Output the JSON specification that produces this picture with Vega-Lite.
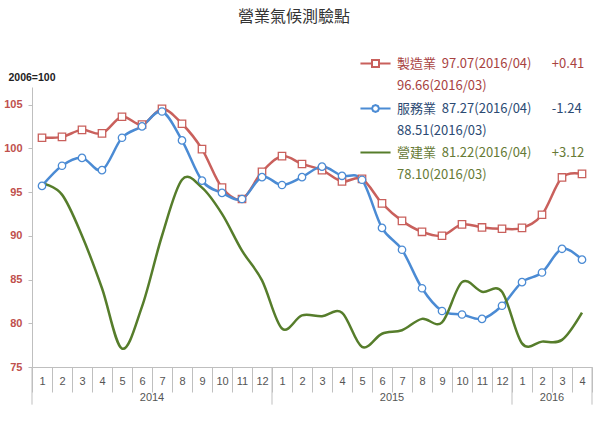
{
  "$schema": "https://vega.github.io/schema/vega-lite/v6.json",
  "width": 560,
  "height": 280,
  "autosize": {"type": "none"},
  "padding": {"left": 32, "top": 87, "right": 8, "bottom": 56},
  "background": "white",
  "title": {"text": "營業氣候測驗點", "anchor": "middle", "frame": "group", "offset": 32, "dx": -18, "fontSize": 16, "fontWeight": "normal", "color": "#333333", "font": "Noto Sans CJK TC"},
  "config": {"view": {"stroke": null}},
  "datasets": {
    "bci": [
      {"ym": "2014-01", "製造業": 101.2, "服務業": 95.7, "營建業": 96.0},
      {"ym": "2014-02", "製造業": 101.3, "服務業": 98.0, "營建業": 94.7},
      {"ym": "2014-03", "製造業": 102.1, "服務業": 98.9, "營建業": 90.0},
      {"ym": "2014-04", "製造業": 101.7, "服務業": 97.5, "營建業": 84.0},
      {"ym": "2014-05", "製造業": 103.6, "服務業": 101.2, "營建業": 77.1},
      {"ym": "2014-06", "製造業": 102.7, "服務業": 102.5, "營建業": 81.9},
      {"ym": "2014-07", "製造業": 104.5, "服務業": 104.2, "營建業": 90.0},
      {"ym": "2014-08", "製造業": 102.8, "服務業": 100.9, "營建業": 96.4},
      {"ym": "2014-09", "製造業": 99.9, "服務業": 96.3, "營建業": 95.5},
      {"ym": "2014-10", "製造業": 95.5, "服務業": 94.9, "營建業": 92.5},
      {"ym": "2014-11", "製造業": 94.2, "服務業": 94.2, "營建業": 88.3},
      {"ym": "2014-12", "製造業": 97.3, "服務業": 96.7, "營建業": 84.9},
      {"ym": "2015-01", "製造業": 99.1, "服務業": 95.8, "營建業": 79.4},
      {"ym": "2015-02", "製造業": 98.2, "服務業": 96.7, "營建業": 80.9},
      {"ym": "2015-03", "製造業": 97.5, "服務業": 97.9, "營建業": 80.8},
      {"ym": "2015-04", "製造業": 96.2, "服務業": 96.85, "營建業": 81.2},
      {"ym": "2015-05", "製造業": 96.5, "服務業": 96.4, "營建業": 77.3},
      {"ym": "2015-06", "製造業": 93.7, "服務業": 90.9, "營建業": 78.8},
      {"ym": "2015-07", "製造業": 91.7, "服務業": 88.4, "營建業": 79.2},
      {"ym": "2015-08", "製造業": 90.45, "服務業": 84.0, "營建業": 80.5},
      {"ym": "2015-09", "製造業": 90.0, "服務業": 81.4, "營建業": 80.1},
      {"ym": "2015-10", "製造業": 91.3, "服務業": 81.0, "營建業": 84.7},
      {"ym": "2015-11", "製造業": 90.95, "服務業": 80.5, "營建業": 83.6},
      {"ym": "2015-12", "製造業": 90.8, "服務業": 82.0, "營建業": 83.6},
      {"ym": "2016-01", "製造業": 90.9, "服務業": 84.7, "營建業": 77.7},
      {"ym": "2016-02", "製造業": 92.4, "服務業": 85.8, "營建業": 77.9},
      {"ym": "2016-03", "製造業": 96.66, "服務業": 88.51, "營建業": 78.1},
      {"ym": "2016-04", "製造業": 97.07, "服務業": 87.27, "營建業": 81.22}
    ],
    "years": [
      {"start": "2014-01", "mid": "2014-07", "year": "2014"},
      {"start": "2015-01", "mid": "2015-07", "year": "2015"},
      {"start": "2016-01", "mid": "2016-03", "year": "2016"}
    ],
    "yearEnd": [
      {"end": "2016-04"}
    ]
  },
  "layer": [
    {
      "data": {"name": "bci"},
      "transform": [{"fold": ["製造業", "服務業", "營建業"], "as": ["series", "value"]}],
      "mark": {"type": "line", "interpolate": "cardinal", "strokeWidth": 2.5},
      "encoding": {
        "x": {
          "field": "ym", "type": "ordinal",
          "scale": {"type": "band", "paddingInner": 0, "paddingOuter": 0},
          "axis": {
            "title": null, "labelExpr": "datum.value ? toNumber(slice(datum.value, 5)) : ''", "labelAngle": 0, "tickBand": "extent",
            "tickSize": 25, "tickColor": "#bfbfbf", "domainColor": "#bfbfbf", "labelPadding": -17, "labelFontSize": 11,
            "labelColor": "#555555", "labelFont": "Liberation Sans", "grid": false
          }
        },
        "y": {
          "field": "value", "type": "quantitative",
          "scale": {"domain": [75, 107], "zero": false, "nice": false},
          "axis": {
            "title": "2006=100", "titleAngle": 0, "titleX": -24, "titleY": -10, "titleAlign": "left", "titleBaseline": "middle",
            "titleFontSize": 10.5, "titleFontWeight": "bold", "titleColor": "#222222", "titleFont": "Liberation Sans",
            "values": [75, 80, 85, 90, 95, 100, 105], "labelColor": "#c0504d", "labelFontSize": 11, "labelFontWeight": "bold",
            "labelFont": "Liberation Sans", "grid": false, "domainColor": "#bfbfbf", "tickColor": "#bfbfbf", "tickSize": 4, "labelPadding": 6
          }
        },
        "color": {
          "field": "series", "type": "nominal",
          "scale": {"domain": ["製造業", "服務業", "營建業"], "range": ["#c9605c", "#4b8bd4", "#567d2b"]},
          "legend": {
            "orient": "none", "legendX": 337, "legendY": -30, "title": null, "padding": 0,
            "symbolSize": 49, "labelOffset": 15, "labelFontSize": 13, "labelFont": "Noto Sans CJK TC", "rowPadding": 8, "labelLimit": 300,
            "labelExpr": "datum.label == '製造業' ? ['製造業\u00a0\u00a097.07(2016/04)\u00a0\u00a0\u00a0\u00a0\u00a0\u00a0\u00a0+0.41', '96.66(2016/03)'] : datum.label == '服務業' ? ['服務業\u00a0\u00a087.27(2016/04)\u00a0\u00a0\u00a0\u00a0\u00a0\u00a0\u00a0-1.24', '88.51(2016/03)'] : ['營建業\u00a0\u00a081.22(2016/04)\u00a0\u00a0\u00a0\u00a0\u00a0\u00a0\u00a0+3.12', '78.10(2016/03)']",
            "encode": {
              "symbols": {"update": {
                "shape": {"signal": "datum.value == '製造業' ? 'M-4.3,0H-1M1,0H4.3M-1,-1H1V1H-1Z' : datum.value == '服務業' ? 'M-4.3,0H-1M1,0H4.3M1,0L0.7,0.7L0,1L-0.7,0.7L-1,0L-0.7,-0.7L0,-1L0.7,-0.7Z' : 'M-4.3,0H4.3'"},
                "fill": {"value": "white"}, "strokeWidth": {"value": 2}
              }},
              "labels": {"update": {
                "fill": {"signal": "datum.value == '製造業' ? '#a8423f' : datum.value == '服務業' ? '#2b4a73' : '#667a35'"},
                "lineHeight": {"value": 22}
              }}
            }
          }
        }
      }
    },
    {
      "data": {"name": "bci"},
      "transform": [{"fold": ["製造業", "服務業"], "as": ["series", "value"]}],
      "mark": {"type": "point", "fill": "white", "filled": false, "strokeWidth": 1.3, "size": 55, "opacity": 1},
      "encoding": {
        "x": {"field": "ym", "type": "ordinal"},
        "y": {"field": "value", "type": "quantitative"},
        "shape": {"field": "series", "type": "nominal", "scale": {"domain": ["製造業", "服務業"], "range": ["square", "circle"]}, "legend": null},
        "stroke": {"field": "series", "type": "nominal", "scale": {"domain": ["製造業", "服務業"], "range": ["#c9605c", "#4b8bd4"]}, "legend": null}
      }
    },
    {
      "data": {"name": "years"},
      "mark": {"type": "rule", "color": "#bfbfbf", "strokeWidth": 1},
      "encoding": {
        "x": {"field": "start", "type": "ordinal", "bandPosition": 0},
        "y": {"datum": 75},
        "y2": {"datum": 70.7}
      }
    },
    {
      "data": {"name": "yearEnd"},
      "mark": {"type": "rule", "color": "#bfbfbf", "strokeWidth": 1},
      "encoding": {
        "x": {"field": "end", "type": "ordinal", "bandPosition": 1},
        "y": {"datum": 75},
        "y2": {"datum": 70.7}
      }
    },
    {
      "data": {"name": "years"},
      "mark": {"type": "text", "fontSize": 11, "color": "#555555", "font": "Liberation Sans", "baseline": "middle", "align": "center"},
      "encoding": {
        "x": {"field": "mid", "type": "ordinal", "bandPosition": 0},
        "y": {"datum": 71.5},
        "text": {"field": "year"}
      }
    }
  ]
}
